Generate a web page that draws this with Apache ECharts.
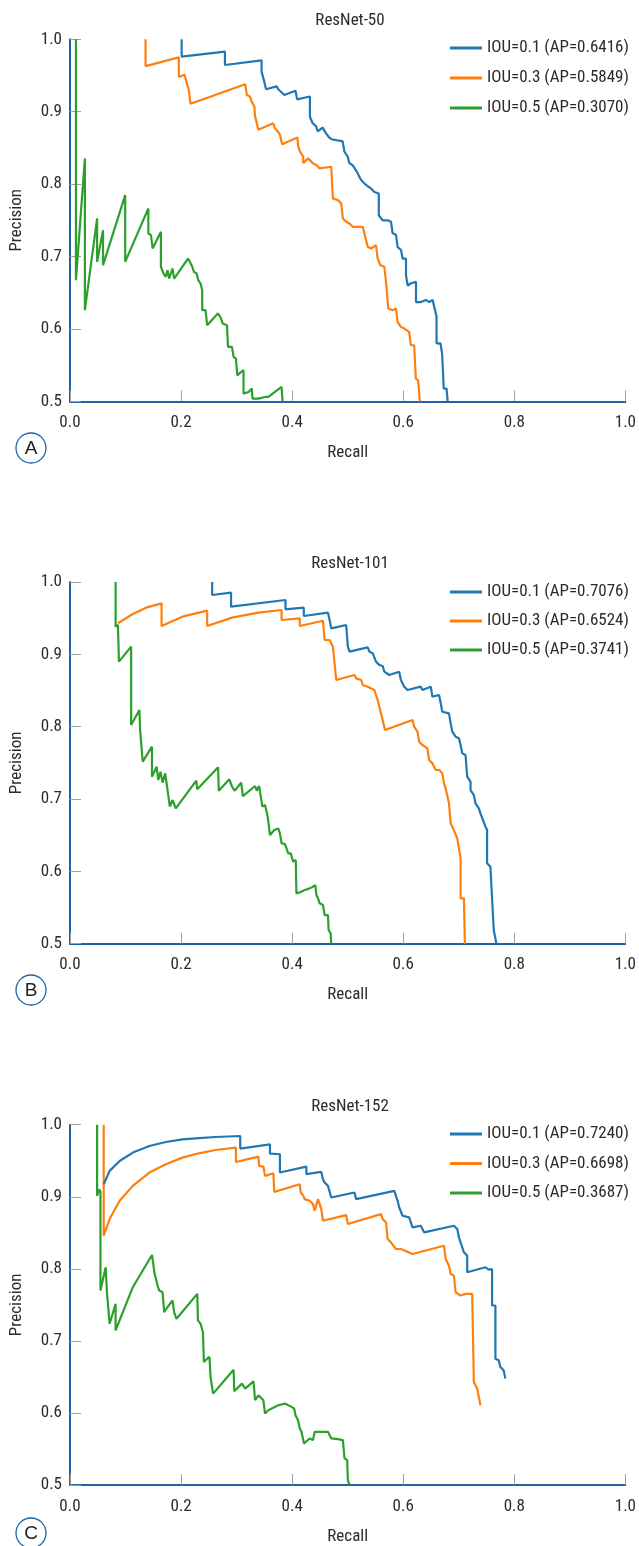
<!DOCTYPE html>
<html>
<head>
<meta charset="utf-8">
<script src="https://cdn.jsdelivr.net/npm/echarts@6/dist/echarts.min.js"></script>
<style>html,body{margin:0;padding:0;background:#fff;}#c{width:639px;height:1546px;}</style>
</head>
<body>
<div id="c"></div>
<script>
// ---- data: [recall, precision] ----
const titles = ['ResNet-50', 'ResNet-101', 'ResNet-152'];
const panelLetters = ['A', 'B', 'C'];
const xTicks = [0, 0.2, 0.4, 0.6, 0.8, 1.0];
const yTicks = [0.5, 0.6, 0.7, 0.8, 0.9, 1.0];
const legendNames = [
  ['IOU=0.1 (AP=0.6416)', 'IOU=0.3 (AP=0.5849)', 'IOU=0.5 (AP=0.3070)'],
  ['IOU=0.1 (AP=0.7076)', 'IOU=0.3 (AP=0.6524)', 'IOU=0.5 (AP=0.3741)'],
  ['IOU=0.1 (AP=0.7240)', 'IOU=0.3 (AP=0.6698)', 'IOU=0.5 (AP=0.3687)']
];

const r50_iou1 = [[0.201,1.0],[0.201,0.976],[0.279,0.983],[0.279,0.9645],[0.345,0.971],[0.345,0.955],[0.349,0.944],[0.353,0.931],[0.372,0.935],[0.375,0.931],[0.386,0.923],[0.406,0.929],[0.409,0.917],[0.432,0.921],[0.432,0.893],[0.437,0.884],[0.443,0.880],[0.446,0.873],[0.455,0.878],[0.461,0.870],[0.466,0.865],[0.471,0.862],[0.491,0.859],[0.494,0.845],[0.500,0.838],[0.503,0.829],[0.509,0.826],[0.515,0.819],[0.518,0.815],[0.521,0.810],[0.524,0.806],[0.530,0.801],[0.536,0.797],[0.542,0.794],[0.548,0.789],[0.556,0.787],[0.556,0.757],[0.563,0.750],[0.572,0.750],[0.578,0.748],[0.581,0.732],[0.587,0.730],[0.590,0.713],[0.596,0.709],[0.599,0.697],[0.605,0.697],[0.605,0.674],[0.608,0.660],[0.614,0.663],[0.623,0.665],[0.623,0.637],[0.632,0.637],[0.641,0.640],[0.647,0.637],[0.653,0.640],[0.660,0.617],[0.660,0.580],[0.667,0.580],[0.670,0.566],[0.673,0.566],[0.673,0.5175],[0.678,0.5175],[0.680,0.500]];
const r50_iou3 = [[0.136,1.0],[0.136,0.963],[0.196,0.975],[0.196,0.948],[0.2065,0.951],[0.211,0.937],[0.214,0.930],[0.217,0.911],[0.3155,0.938],[0.3185,0.923],[0.324,0.921],[0.327,0.914],[0.332,0.907],[0.333,0.895],[0.336,0.893],[0.339,0.875],[0.366,0.884],[0.369,0.877],[0.375,0.872],[0.378,0.868],[0.382,0.855],[0.4095,0.8645],[0.411,0.852],[0.414,0.845],[0.420,0.838],[0.420,0.829],[0.4287,0.8355],[0.4376,0.8286],[0.4436,0.8263],[0.4496,0.8217],[0.4704,0.824],[0.4734,0.7802],[0.4824,0.7779],[0.4884,0.7733],[0.4913,0.7525],[0.4973,0.7479],[0.5033,0.7456],[0.5092,0.741],[0.5272,0.741],[0.5301,0.7318],[0.5361,0.7134],[0.5421,0.7111],[0.551,0.7157],[0.554,0.6972],[0.5588,0.688],[0.566,0.6857],[0.569,0.665],[0.5731,0.6281],[0.5809,0.6258],[0.5869,0.6281],[0.5899,0.6097],[0.5958,0.6028],[0.6018,0.6005],[0.6107,0.5959],[0.6137,0.5774],[0.6197,0.5774],[0.6227,0.5313],[0.6269,0.529],[0.6299,0.500]];
const r50_iou5 = [[0.0107,1.0],[0.0107,0.6673],[0.0268,0.8355],[0.0268,0.6258],[0.0488,0.7525],[0.0488,0.6926],[0.0595,0.7364],[0.0595,0.688],[0.0994,0.7848],[0.0994,0.6926],[0.1411,0.7664],[0.1411,0.7318],[0.1458,0.7295],[0.1488,0.7111],[0.1637,0.7341],[0.1637,0.6857],[0.1685,0.6765],[0.1726,0.6719],[0.1756,0.6811],[0.1786,0.6696],[0.1845,0.6834],[0.1875,0.6696],[0.2125,0.6972],[0.2173,0.6903],[0.2202,0.6857],[0.2232,0.6788],[0.228,0.6765],[0.231,0.6673],[0.2351,0.6627],[0.2381,0.6535],[0.2381,0.6258],[0.244,0.6258],[0.247,0.6051],[0.2661,0.6212],[0.2708,0.6166],[0.275,0.6074],[0.2827,0.6051],[0.2845,0.5751],[0.2917,0.5751],[0.2946,0.5613],[0.2988,0.559],[0.3012,0.5359],[0.3083,0.5406],[0.3125,0.5429],[0.3125,0.5106],[0.3214,0.5129],[0.3274,0.5175],[0.3286,0.5037],[0.3393,0.5037],[0.3512,0.506],[0.3571,0.506],[0.381,0.5198],[0.3827,0.500]];

const r101_iou1 = [[0.256,1.0],[0.256,0.982],[0.290,0.9853],[0.290,0.9659],[0.388,0.9751],[0.388,0.9622],[0.421,0.9645],[0.421,0.953],[0.4645,0.9576],[0.4675,0.9475],[0.4704,0.9359],[0.4973,0.9406],[0.5003,0.9106],[0.5033,0.9037],[0.5361,0.9097],[0.5391,0.9037],[0.5451,0.9014],[0.551,0.8899],[0.557,0.8853],[0.563,0.8839],[0.566,0.876],[0.5749,0.8714],[0.5928,0.876],[0.5958,0.8645],[0.6018,0.8553],[0.6078,0.8507],[0.6316,0.8553],[0.6346,0.8507],[0.6496,0.8553],[0.6525,0.8415],[0.6645,0.8438],[0.6675,0.8323],[0.6704,0.8207],[0.6824,0.8184],[0.6854,0.8046],[0.6884,0.7931],[0.6943,0.7862],[0.7003,0.7839],[0.7033,0.7747],[0.7063,0.7631],[0.7122,0.7608],[0.7152,0.7309],[0.7212,0.724],[0.7212,0.7124],[0.7272,0.7055],[0.7301,0.694],[0.7361,0.6871],[0.7391,0.6802],[0.7421,0.6779],[0.7481,0.6618],[0.751,0.6571],[0.751,0.6111],[0.757,0.6065],[0.760,0.6042],[0.763,0.5189],[0.766,0.5166],[0.7678,0.500]];
const r101_iou3 = [[0.0863,0.9429],[0.1131,0.9558],[0.1369,0.9645],[0.1649,0.9705],[0.1649,0.9392],[0.2024,0.9521],[0.247,0.9604],[0.247,0.9392],[0.2917,0.9507],[0.3393,0.9576],[0.381,0.9613],[0.381,0.9475],[0.4137,0.9498],[0.4137,0.9392],[0.4555,0.9465],[0.4585,0.9198],[0.4675,0.9198],[0.4734,0.9106],[0.4794,0.8645],[0.5122,0.8714],[0.5152,0.8668],[0.5242,0.8645],[0.5272,0.8576],[0.5361,0.8553],[0.548,0.8507],[0.554,0.8369],[0.557,0.8276],[0.563,0.8092],[0.5672,0.7954],[0.6167,0.8092],[0.6197,0.800],[0.6257,0.7931],[0.6287,0.7793],[0.6346,0.7747],[0.6436,0.770],[0.6466,0.7539],[0.6525,0.7493],[0.6585,0.7401],[0.6645,0.7401],[0.6704,0.7355],[0.6734,0.7217],[0.6764,0.7147],[0.6824,0.694],[0.6854,0.6664],[0.6884,0.6618],[0.6973,0.6456],[0.7003,0.6433],[0.7033,0.618],[0.7033,0.5627],[0.7093,0.5627],[0.711,0.500]];
const r101_iou5 = [[0.0821,1.0],[0.0821,0.9382],[0.0863,0.9406],[0.0881,0.8899],[0.1101,0.9106],[0.1101,0.8023],[0.125,0.823],[0.1262,0.7954],[0.1298,0.7931],[0.131,0.7516],[0.1476,0.7724],[0.1476,0.7309],[0.156,0.7447],[0.1589,0.7263],[0.1631,0.7378],[0.1667,0.7226],[0.1714,0.7355],[0.1738,0.7226],[0.1798,0.6894],[0.1845,0.6986],[0.1905,0.6871],[0.2274,0.7253],[0.2292,0.7134],[0.2667,0.7438],[0.2679,0.7115],[0.2869,0.7272],[0.2917,0.717],[0.2964,0.7115],[0.3083,0.7226],[0.3113,0.7041],[0.3333,0.718],[0.3363,0.7115],[0.3405,0.718],[0.3464,0.6894],[0.3512,0.6917],[0.356,0.6756],[0.3601,0.6502],[0.3679,0.6571],[0.375,0.6594],[0.378,0.6525],[0.381,0.6387],[0.3869,0.6378],[0.3899,0.6318],[0.3929,0.6249],[0.3976,0.6249],[0.4018,0.6134],[0.4065,0.6157],[0.4077,0.5696],[0.4167,0.5719],[0.4227,0.5742],[0.4316,0.5765],[0.4376,0.5788],[0.4418,0.5811],[0.4436,0.5673],[0.4466,0.5627],[0.4496,0.5558],[0.4555,0.5535],[0.4585,0.5396],[0.4645,0.5396],[0.4657,0.5189],[0.4693,0.5143],[0.4704,0.500]];

const r152_iou1 = [[0.0607,0.9174],[0.0714,0.9359],[0.0893,0.9497],[0.1131,0.9613],[0.1429,0.9705],[0.1726,0.976],[0.2024,0.9797],[0.2321,0.9815],[0.2619,0.9829],[0.3065,0.9843],[0.3065,0.9668],[0.3601,0.9728],[0.3601,0.9599],[0.378,0.959],[0.378,0.9336],[0.4256,0.9419],[0.4256,0.9313],[0.4525,0.9345],[0.4555,0.9244],[0.4585,0.9197],[0.4645,0.9151],[0.4704,0.899],[0.5122,0.9059],[0.5152,0.8967],[0.5839,0.9082],[0.5869,0.9013],[0.5899,0.8944],[0.5928,0.8851],[0.5988,0.8736],[0.6107,0.8713],[0.6167,0.8575],[0.6316,0.8598],[0.6376,0.8506],[0.6913,0.8598],[0.6973,0.8552],[0.7003,0.8436],[0.7033,0.8367],[0.7093,0.8229],[0.7152,0.8183],[0.7152,0.7952],[0.7481,0.8021],[0.754,0.7989],[0.760,0.7998],[0.760,0.7491],[0.766,0.7491],[0.766,0.6753],[0.7719,0.673],[0.7749,0.6637],[0.7809,0.6591],[0.7839,0.6476]];
const r152_iou3 = [[0.0607,1.0],[0.0607,0.8459],[0.0714,0.869],[0.0893,0.8944],[0.1131,0.9151],[0.1429,0.9336],[0.1726,0.9451],[0.2024,0.9543],[0.2321,0.9603],[0.2619,0.9649],[0.2988,0.9682],[0.2988,0.9483],[0.3393,0.9557],[0.3405,0.9428],[0.3482,0.9419],[0.3512,0.929],[0.3661,0.9327],[0.3679,0.9068],[0.4137,0.9174],[0.4155,0.9059],[0.4196,0.9022],[0.4226,0.8967],[0.4315,0.8944],[0.4375,0.8898],[0.4405,0.8805],[0.4466,0.8967],[0.4525,0.8828],[0.4555,0.8667],[0.4973,0.8745],[0.5003,0.8621],[0.560,0.8759],[0.563,0.869],[0.569,0.8644],[0.5719,0.8413],[0.5779,0.8367],[0.5869,0.8275],[0.5958,0.8275],[0.6167,0.8206],[0.6734,0.8321],[0.6764,0.8137],[0.6824,0.8044],[0.6854,0.7929],[0.6913,0.7906],[0.6943,0.7675],[0.7033,0.7629],[0.7122,0.7652],[0.7242,0.7652],[0.7272,0.643],[0.7301,0.643],[0.7331,0.6338],[0.7361,0.6315],[0.7391,0.6107]];
const r152_iou5 = [[0.0488,1.0],[0.0488,0.9013],[0.0524,0.9105],[0.0548,0.9068],[0.0548,0.7698],[0.0643,0.8021],[0.0667,0.7652],[0.0702,0.7652],[0.0714,0.7237],[0.0821,0.7514],[0.0821,0.7145],[0.1131,0.7745],[0.1476,0.8192],[0.150,0.8067],[0.1518,0.7952],[0.1548,0.786],[0.1577,0.7768],[0.1607,0.7698],[0.1667,0.7675],[0.1696,0.7399],[0.1756,0.7468],[0.1845,0.756],[0.1875,0.7399],[0.1917,0.7306],[0.2292,0.7652],[0.2304,0.7284],[0.2351,0.7237],[0.2393,0.7122],[0.2411,0.6707],[0.247,0.6753],[0.2512,0.6776],[0.253,0.6499],[0.256,0.6476],[0.2577,0.6268],[0.2946,0.660],[0.2958,0.6301],[0.3095,0.6407],[0.3155,0.6338],[0.3304,0.6439],[0.3333,0.6176],[0.3393,0.6245],[0.3482,0.6176],[0.3512,0.5992],[0.3571,0.6038],[0.375,0.6107],[0.3869,0.613],[0.3988,0.6084],[0.4036,0.6061],[0.406,0.5969],[0.4107,0.5899],[0.4137,0.5784],[0.4167,0.5738],[0.4214,0.5577],[0.4315,0.5646],[0.4375,0.5623],[0.4406,0.5738],[0.4645,0.5738],[0.4704,0.5646],[0.4824,0.5636],[0.4913,0.5623],[0.4943,0.5369],[0.4991,0.5346],[0.5003,0.5069],[0.5033,0.500]];

const panelData = [
  [r50_iou1, r50_iou3, r50_iou5],
  [r101_iou1, r101_iou3, r101_iou5],
  [r152_iou1, r152_iou3, r152_iou5]
];
const seriesColors = ['#1f77b4', '#ff7f0e', '#2ca02c'];

// ---- font choice: prefer a narrow sans like the original, else fall back ----
function fontAvailable(name) {
  const ctx = document.createElement('canvas').getContext('2d');
  const s = 'IOU=0.1 (AP=0.6416) ResNet Recall Precision';
  for (const base of ['monospace', 'serif']) {
    ctx.font = '72px ' + base;
    const w0 = ctx.measureText(s).width;
    ctx.font = '72px "' + name + '", ' + base;
    if (Math.abs(ctx.measureText(s).width - w0) > 0.5) return true;
  }
  return false;
}
const fontCandidates = ['Liberation Sans Narrow', 'Arial Narrow', 'Roboto Condensed', 'Noto Sans Condensed',
  'Open Sans Condensed', 'Nimbus Sans Narrow', 'Liberation Sans', 'Arial'];
const FONT_NAME = fontCandidates.find(fontAvailable) || 'sans-serif';
const FONT = FONT_NAME === 'sans-serif' ? 'sans-serif' : '"' + FONT_NAME + '", sans-serif';
// size chosen so the legend label spans the same width as in the original (~143px)
const FS = (() => {
  const ctx = document.createElement('canvas').getContext('2d');
  ctx.font = '100px ' + FONT;
  const w = ctx.measureText('IOU=0.1 (AP=0.6416)').width;
  return Math.max(14, Math.min(19, Math.round(100 * 143 / w * 2) / 2));
})();

// ---- layout ----
const TXT = '#2b2b2b';
const AXIS_BLUE = '#1f62a8';
const panels = [
  {top: 39.3, height: 362, titleTop: 12, legendTop: 38, legendGap: 10, circleY: 448},
  {top: 582, height: 361.7, titleTop: 555, legendTop: 582, legendGap: 9, circleY: 990},
  {top: 1124.7, height: 361.3, titleTop: 1098, legendTop: 1124, legendGap: 9.5, circleY: 1533}
];

const grid = [], xAxis = [], yAxis = [], series = [], title = [], legend = [], graphic = [];
panels.forEach((p, i) => {
  grid.push({left: 70, top: p.top, width: 558.5, height: p.height, containLabel: false});
  xAxis.push({
    type: 'value', gridIndex: i, min: xTicks[0], max: xTicks[xTicks.length - 1], interval: 0.2,
    name: 'Recall', nameLocation: 'middle', nameGap: 43,
    nameTextStyle: {fontFamily: FONT, fontSize: FS, color: TXT},
    axisLine: {show: true, onZero: false, lineStyle: {color: AXIS_BLUE, width: 2}},
    axisTick: {show: true, inside: true, length: 11, lineStyle: {color: '#a0a0a0', width: 1}},
    axisLabel: {fontFamily: FONT, fontSize: FS, color: TXT, margin: 13, formatter: v => v.toFixed(1)},
    splitLine: {show: false}
  });
  yAxis.push({
    type: 'value', gridIndex: i, min: yTicks[0], max: yTicks[yTicks.length - 1], interval: 0.1,
    name: 'Precision', nameLocation: 'middle', nameGap: 45,
    nameTextStyle: {fontFamily: FONT, fontSize: FS, color: TXT},
    axisLine: {show: true, onZero: false, lineStyle: {color: AXIS_BLUE, width: 2}},
    axisTick: {show: true, inside: true, length: 11, lineStyle: {color: '#a0a0a0', width: 1}},
    axisLabel: {fontFamily: FONT, fontSize: FS, color: TXT, margin: 8, formatter: v => v.toFixed(1)},
    splitLine: {show: false}
  });
  title.push({
    text: titles[i], left: 350, top: p.titleTop, textAlign: 'center', padding: 0,
    textStyle: {fontFamily: FONT, fontSize: FS, fontWeight: 'normal', color: TXT}
  });
  legend.push({
    data: legendNames[i], orient: 'vertical', left: 450, top: p.legendTop, padding: 0,
    icon: 'rect', itemWidth: 32, itemHeight: 3, itemGap: p.legendGap,
    itemTextGap: 8, selectedMode: false,
    textStyle: {fontFamily: FONT, fontSize: FS, color: TXT, lineHeight: 20}
  });
  panelData[i].forEach((d, k) => {
    series.push({
      type: 'line', name: legendNames[i][k], xAxisIndex: i, yAxisIndex: i,
      data: d, symbol: 'none', showSymbol: false, smooth: false, clip: true,
      lineStyle: {color: seriesColors[k], width: 2.2}, itemStyle: {color: seriesColors[k]},
      animation: false, z: 3 - k
    });
  });
  graphic.push({
    type: 'circle', shape: {cx: 31, cy: p.circleY, r: 15}, silent: true,
    style: {fill: 'none', stroke: AXIS_BLUE, lineWidth: 1.3}
  });
  graphic.push({
    type: 'text', x: 31, y: p.circleY + 1, silent: true,
    style: {text: panelLetters[i], fontFamily: '"Liberation Sans", sans-serif', fontSize: 19,
      fill: '#222', align: 'center', verticalAlign: 'middle'}
  });
});

const chart = echarts.init(document.getElementById('c'), null, {renderer: 'canvas'});
chart.setOption({
  backgroundColor: '#ffffff',
  animation: false,
  grid, xAxis, yAxis, series, title, legend, graphic
});
</script>
</body>
</html>
